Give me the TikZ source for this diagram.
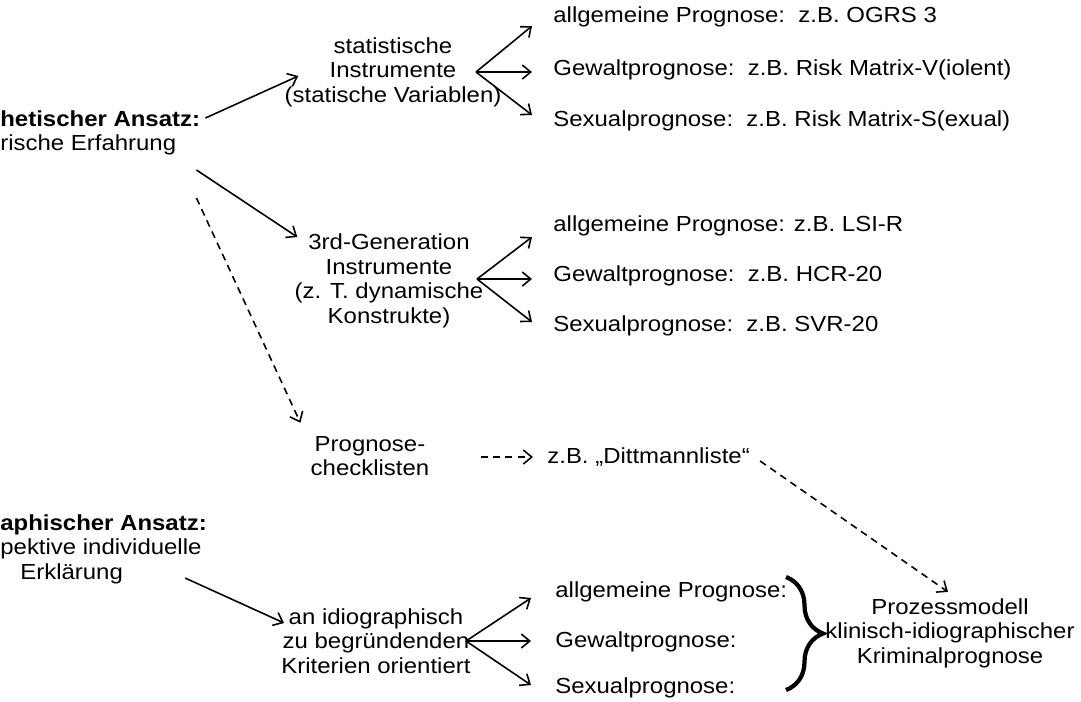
\documentclass[tikz,border=0pt]{standalone}
\usepackage{fontspec}
\setmainfont[FakeStretch=1.1]{Liberation Sans}
\usetikzlibrary{arrows.meta,decorations.pathreplacing}

\begin{document}
\begin{tikzpicture}[x=0.02cm,y=-0.02cm,
    every node/.style={inner sep=0pt,align=center,font=\fontsize{12.4}{14}\selectfont},
    arr/.style={line width=0.9pt,-{Straight Barb[length=1.7mm,width=2.8mm]}},
    darr/.style={arr,dash pattern=on 4pt off 3pt}]
    \useasboundingbox (0,0) rectangle (1081,701);
    % linke Spalte
    \node[anchor=west,align=left] (nomo) at (0,133) {\textbf{hetischer Ansatz:}\\rische Erfahrung};
    \node[anchor=west,align=left] (idio) at (0,549) {\textbf{aphischer Ansatz:}\\pektive individuelle\\\hspace*{0.4cm}Erklärung};
    % mittlere Spalte
    \node (stat) at (393,72) {statistische\\Instrumente\\(statische Variablen)};
    \node (gen) at (389,281) {3rd-Generation\\Instrumente\\(z. T. dynamische\\Konstrukte)};
    \node (check) at (370,456) {Prognose-\\checklisten};
    \node (crit) at (376,641) {an idiographisch\\zu begründenden\\Kriterien orientiert};
    \coordinate (hubA) at (476,72);
    \coordinate (hubB) at (477,279);
    \coordinate (hubC) at (466,641);
    % rechte Spalte
    \node[anchor=west] (a1) at (553,17) {allgemeine Prognose:\ \ z.B. OGRS 3};
    \node[anchor=west] (a2) at (553,70) {Gewaltprognose:\ \ z.B. Risk Matrix-V(iolent)};
    \node[anchor=west] (a3) at (553,121) {Sexualprognose:\ \ z.B. Risk Matrix-S(exual)};
    \node[anchor=west] (b1) at (553,226) {allgemeine Prognose: z.B. LSI-R};
    \node[anchor=west] (b2) at (553,276) {Gewaltprognose:\ \ z.B. HCR-20};
    \node[anchor=west] (b3) at (553,326) {Sexualprognose:\ \ z.B. SVR-20};
    \node[anchor=west] (ditt) at (547,457) {z.B. „Dittmannliste“};
    \node[anchor=west] (c1) at (555,592) {allgemeine Prognose:};
    \node[anchor=west] (c2) at (555,642) {Gewaltprognose:};
    \node[anchor=west] (c3) at (555,688) {Sexualprognose:};
    \node (proz) at (950,633) {Prozessmodell\\klinisch-idiographischer\\Kriminalprognose};
    % Pfeile
    \draw[arr] ([shift={(5,-15)}]nomo.east) -- ([shift={(14,4)}]stat.west);
    \draw[arr] ([shift={(-4,37)}]nomo.east) -- ([shift={(3,-44)}]gen.west);
    \draw[darr] ([shift={(-4,65)}]nomo.east) -- ([shift={(-10,-13)}]check.north west);
    \draw[darr] ([shift={(51,1)}]check.east) -- ([shift={(-14,0)}]ditt.west);
    \draw[darr] ([shift={(10,4)}]ditt.east) -- ([shift={(-2,-6)}]proz.north);
    \draw[arr] ([shift={(-22,29)}]idio.east) -- ([shift={(3,-18)}]crit.west);
    \foreach \r/\dy in {a1/9,a2/2,a3/-6}
        \draw[arr] (hubA) -- ([shift={(-21,\dy)}]\r.west);
    \foreach \r/\dy in {b1/11,b2/3,b3/-4}
        \draw[arr] (hubB) -- ([shift={(-21,\dy)}]\r.west);
    \foreach \r/\dy in {c1/6,c2/-1,c3/-3}
        \draw[arr] (hubC) -- ([shift={(-24,\dy)}]\r.west);
    % Klammer
    \draw[line width=2.4pt,decorate,decoration={brace,amplitude=0.74cm}] (786,577) -- (786,690);
\end{tikzpicture}
\end{document}
